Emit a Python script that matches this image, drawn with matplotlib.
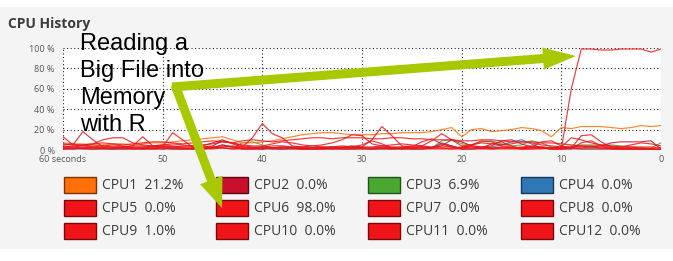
import matplotlib
matplotlib.use("Agg")
import matplotlib.pyplot as plt
from matplotlib.patches import Rectangle, FancyArrow


# seconds ago, left to right
SECONDS = list(range(60, -1, -1))
X_TICKS = [60, 50, 40, 30, 20, 10, 0]
X_LABELS = ["60 seconds", "50", "40", "30", "20", "10", "0"]
Y_TICKS = [0, 20, 40, 60, 80, 100]
Y_LABELS = ["0 %", "20 %", "40 %", "60 %", "80 %", "100 %"]

CPU_NAMES = ["CPU1", "CPU2", "CPU3", "CPU4", "CPU5", "CPU6",
             "CPU7", "CPU8", "CPU9", "CPU10", "CPU11", "CPU12"]
CPU_NOW = ["21.2%", "0.0%", "6.9%", "0.0%", "0.0%", "98.0%",
           "0.0%", "0.0%", "1.0%", "0.0%", "0.0%", "0.0%"]

# usage in %, one value per second (t = 60 ... 0)
CPU1 = [7, 6, 6, 5, 5, 6, 6, 5, 6, 7,
        7, 8, 9, 10, 11, 12, 13, 10, 7, 7,
        8, 9, 11, 13, 15, 16, 17, 17, 16, 15,
        15, 15, 16, 16, 17, 17, 17, 18, 20, 22,
        13, 20, 21, 18, 19, 20, 22, 21, 19, 13,
        22, 21, 23, 23, 23, 22, 21, 22, 24, 23,
        24]
CPU2 = [4, 3, 4, 5, 4, 3, 3, 4, 4, 3,
        3, 3, 4, 4, 3, 4, 9, 7, 4, 3,
        3, 4, 4, 3, 3, 4, 3, 3, 3, 4,
        3, 3, 4, 3, 3, 4, 4, 3, 4, 10,
        8, 4, 3, 4, 9, 10, 6, 3, 3, 2,
        2, 3, 3, 3, 4, 7, 8, 8, 8, 9,
        1]
CPU3 = [2, 2, 2, 2, 2, 1, 1, 2, 2, 2,
        2, 1, 1, 1, 2, 2, 2, 2, 7, 8,
        5, 2, 2, 2, 1, 1, 1, 2, 2, 2,
        2, 2, 2, 2, 2, 2, 2, 2, 9, 10,
        6, 5, 8, 9, 6, 4, 5, 9, 7, 3,
        3, 4, 5, 5, 5, 5, 4, 3, 2, 2,
        7]
CPU4 = [1, 1, 1, 1, 1, 1, 1, 1, 1, 1,
        1, 1, 1, 1, 1, 2, 5, 3, 1, 1,
        1, 1, 1, 1, 1, 1, 1, 1, 1, 1,
        1, 1, 1, 1, 1, 1, 1, 2, 7, 4,
        1, 1, 2, 3, 5, 8, 10, 6, 2, 1,
        1, 1, 1, 1, 1, 1, 1, 1, 1, 1,
        0]
CPU5 = [13, 5, 18, 10, 3, 3, 3, 4, 13, 4,
        3, 17, 10, 3, 3, 2, 3, 4, 3, 12,
        26, 16, 12, 4, 3, 2, 2, 3, 2, 2,
        3, 10, 23, 14, 4, 3, 3, 2, 4, 3,
        2, 3, 2, 2, 3, 2, 2, 3, 2, 1,
        1, 2, 14, 15, 8, 3, 2, 2, 2, 1,
        1]
CPU6 = [2, 1, 2, 3, 2, 1, 2, 2, 1, 2,
        3, 2, 1, 2, 2, 3, 2, 1, 2, 2,
        1, 2, 3, 2, 1, 2, 2, 1, 2, 3,
        2, 1, 2, 2, 1, 2, 3, 2, 2, 1,
        2, 3, 2, 1, 2, 2, 1, 2, 2, 1,
        1, 60, 99, 99, 98, 98, 99, 99, 99, 96,
        99]
CPU7 = [3, 4, 5, 6, 10, 12, 12, 7, 5, 4,
        5, 6, 5, 4, 5, 6, 8, 7, 5, 4,
        4, 6, 8, 7, 5, 4, 5, 7, 10, 15,
        14, 6, 4, 5, 6, 5, 4, 9, 16, 10,
        4, 5, 7, 6, 5, 6, 8, 7, 5, 4,
        3, 12, 10, 7, 5, 4, 3, 5, 7, 6,
        4]
CPU8 = [6, 5, 5, 6, 7, 6, 5, 6, 7, 8,
        8, 7, 6, 7, 8, 9, 8, 7, 9, 10,
        9, 8, 9, 10, 11, 12, 12, 11, 12, 12,
        12, 11, 11, 12, 12, 11, 11, 10, 10, 10,
        9, 9, 10, 10, 9, 8, 8, 8, 7, 7,
        6, 5, 4, 4, 4, 3, 3, 3, 3, 3,
        2]
CPU9 = [2, 3, 2, 3, 2, 2, 3, 2, 2, 3,
        4, 3, 2, 2, 4, 7, 10, 6, 3, 2,
        2, 2, 3, 2, 2, 2, 3, 2, 2, 3,
        5, 9, 6, 2, 2, 3, 8, 11, 6, 3,
        2, 5, 9, 8, 4, 3, 2, 3, 8, 9,
        4, 2, 2, 3, 2, 2, 2, 2, 1, 1,
        1]
CPU10 = [1, 2, 1, 1, 2, 2, 1, 1, 2, 1,
         1, 2, 2, 1, 1, 2, 5, 3, 1, 1,
         2, 1, 1, 2, 1, 1, 1, 2, 1, 1,
         2, 1, 1, 1, 2, 1, 1, 2, 6, 4,
         1, 1, 2, 6, 8, 4, 1, 1, 2, 1,
         1, 1, 7, 9, 4, 1, 1, 1, 1, 1,
         0]
CPU11 = [5, 6, 4, 3, 4, 5, 4, 3, 3, 4,
         5, 4, 3, 3, 2, 3, 4, 3, 2, 2,
         3, 2, 2, 3, 2, 2, 2, 3, 4, 3,
         2, 2, 3, 2, 2, 2, 3, 2, 2, 2,
         3, 4, 3, 2, 2, 2, 3, 4, 3, 2,
         2, 3, 4, 3, 2, 2, 1, 1, 1, 1,
         0]
CPU12 = [1, 1, 2, 1, 1, 1, 2, 1, 1, 1,
         2, 1, 1, 1, 1, 1, 2, 1, 1, 1,
         1, 2, 1, 1, 1, 1, 1, 1, 1, 1,
         1, 1, 2, 1, 1, 1, 1, 1, 1, 1,
         1, 1, 1, 1, 1, 1, 1, 1, 1, 2,
         3, 2, 1, 1, 1, 1, 1, 1, 1, 1,
         0]

CPU_DATA = [CPU1, CPU2, CPU3, CPU4, CPU5, CPU6,
            CPU7, CPU8, CPU9, CPU10, CPU11, CPU12]

RED = ("#f01418", "#780a0c")
CPU_COLORS = [("#ff7008", "#7a3500"), ("#c8102e", "#5e0816"),
              ("#4aa832", "#23521a"), ("#2f78b3", "#17395a")] + [RED] * 8

ARROW_GREEN = "#a8c800"
BG = "#f4f4f4"
UI_FONT = ["Open Sans", "DejaVu Sans"]
W, H = 673, 261


def px_to_fig(x0, y0, x1, y1):
    return [x0 / W, 1 - y1 / H, (x1 - x0) / W, (y1 - y0) / H]


def draw_history(fig):
    ax = fig.add_axes(px_to_fig(63, 48, 661, 150))
    ax.set_facecolor("white")
    # draw the flat ones first, the busy reds on top
    order = [2, 3, 1, 0, 11, 10, 9, 8, 7, 6, 4, 5]
    for i in order:
        line_color = CPU_COLORS[i][0]
        ax.plot(SECONDS, CPU_DATA[i], color=line_color, lw=0.85,
                alpha=0.85, solid_joinstyle="round")
    ax.set_xlim(60, 0)
    ax.set_ylim(0, 100)
    ax.set_xticks(X_TICKS, X_LABELS)
    ax.set_yticks(Y_TICKS, Y_LABELS)
    for lab in ax.get_xticklabels() + ax.get_yticklabels():
        lab.set_family(UI_FONT)
    ax.tick_params(length=0, labelsize=6.5, colors="#555555")
    ax.tick_params(axis="x", pad=3.5)
    ax.tick_params(axis="y", pad=6)
    ax.grid(True, color="#222222", lw=0.8, linestyle=(0, (1, 2.2)))
    for s in ax.spines.values():
        s.set_visible(False)
    return ax


def draw_overlay(fig):
    ov = fig.add_axes([0, 0, 1, 1])
    ov.set_xlim(0, W)
    ov.set_ylim(H, 0)
    ov.axis("off")
    ov.patch.set_visible(False)

    ov.text(8, 28, "CPU History", fontsize=10, fontweight="bold",
            color="#3c3c3c", va="baseline", family=UI_FONT)

    col_x = [64, 216, 368, 521]
    row_y = [177, 200, 223]
    for i, name in enumerate(CPU_NAMES):
        x = col_x[i % 4]
        y = row_y[i // 4]
        fill, edge = CPU_COLORS[i]
        ov.add_patch(Rectangle((x, y), 32, 16, facecolor=fill,
                               edgecolor=edge, lw=1.0, zorder=2))
        ov.text(x + 38, y + 8.5, f"{name}  {CPU_NOW[i]}", fontsize=10,
                color="#3c3c3c", va="center", ha="left",
                family=UI_FONT, zorder=2)

    # annotation
    ov.text(80, 33, "Reading a\nBig File into\nMemory\nwith R",
            fontsize=17, color="black", va="top", ha="left",
            family=["Liberation Sans", "DejaVu Sans"], linespacing=1.3,
            zorder=3)

    ov.add_patch(FancyArrow(172, 87, 576 - 172, 56 - 87, width=9,
                            head_width=22, head_length=33,
                            length_includes_head=True, color=ARROW_GREEN,
                            lw=0, zorder=4))
    ov.add_patch(FancyArrow(175, 85, 222 - 175, 208 - 85, width=9,
                            head_width=24, head_length=30,
                            length_includes_head=True, color=ARROW_GREEN,
                            lw=0, zorder=4))
    return ov


def main():
    fig = plt.figure(figsize=(W / 100, H / 100), dpi=100)
    fig.patch.set_facecolor("white")
    fig.patches.append(Rectangle((0, 12 / H), 1, (249 - 7) / H,
                                 transform=fig.transFigure,
                                 facecolor=BG, lw=0, zorder=-5))
    draw_history(fig)
    draw_overlay(fig)
    fig.savefig("out.png", dpi=100)


if __name__ == "__main__":
    main()
